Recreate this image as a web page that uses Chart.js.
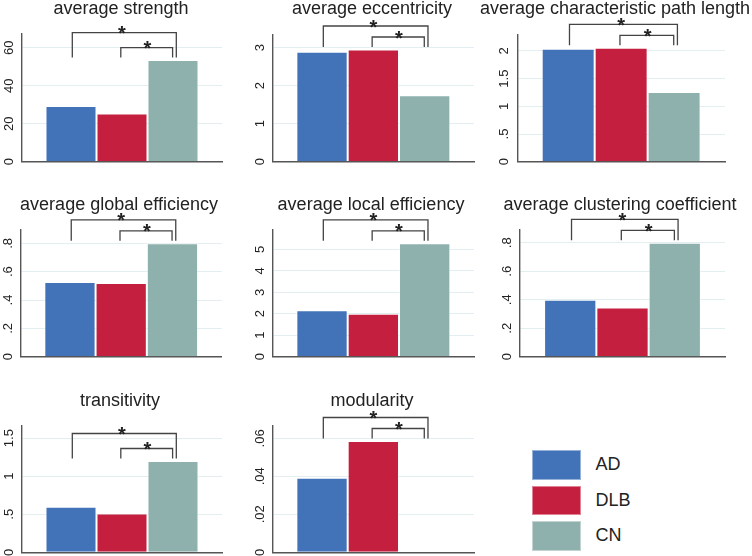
<!DOCTYPE html>
<html>
<head>
<meta charset="utf-8">
<script src="https://cdn.jsdelivr.net/npm/chart.js@4.4.1/dist/chart.umd.min.js"></script>
<style>
  html, body { margin: 0; padding: 0; background: #fff; }
  #page { position: relative; width: 752px; height: 556px; overflow: hidden; font-family: "Liberation Sans", Arial, sans-serif; }
  #page canvas { position: absolute; }
  #legend { position: absolute; left: 532px; top: 450px; }
  .row { display: flex; align-items: center; height: 29.5px; margin-bottom: 6px; }
  .swatch { width: 49px; height: 29.5px; box-sizing: border-box; border: 1px solid rgba(255,255,255,0.45); }
  .name { margin-left: 14.5px; font-size: 18px; color: #222; }
</style>
</head>
<body>
<div id="page"><div id="legend"></div></div>
<script>
var groups = ['AD', 'DLB', 'CN'];
var groupColors = ['#4273b9', '#c41f3e', '#8eb1ae'];

var strength = [29.3, 25.3, 53.5];
var eccentricity = [2.89, 2.95, 1.75];
var pathLength = [2.04, 2.055, 1.26];
var globalEff = [0.527, 0.52, 0.80];
var localEff = [2.16, 2.0, 5.28];
var clustering = [0.40, 0.345, 0.80];
var transitivity = [0.60, 0.51, 1.20];
var modularity = [0.0393, 0.0586, null];

var strengthTicks = [0, 20, 40, 60];
var strengthLabels = ['0', '20', '40', '60'];
var eccTicks = [0, 1, 2, 3];
var eccLabels = ['0', '1', '2', '3'];
var pathTicks = [0, 0.5, 1, 1.5, 2];
var pathLabels = ['0', '.5', '1', '1.5', '2'];
var effTicks = [0, 0.2, 0.4, 0.6, 0.8];
var effLabels = ['0', '.2', '.4', '.6', '.8'];
var localTicks = [0, 1, 2, 3, 4, 5];
var localLabels = ['0', '1', '2', '3', '4', '5'];
var transTicks = [0, 0.5, 1, 1.5];
var transLabels = ['0', '.5', '1', '1.5'];
var modTicks = [0, 0.02, 0.04, 0.06];
var modLabels = ['0', '.02', '.04', '.06'];

var FONT = '"Liberation Sans", Arial, sans-serif';
var CAT_PCT = 0.765;
var CANVAS_W = 280;
var TICK_SIZE = 13;

// panel placement on the page (title centre, plot box), kept apart from the data
var panels = [
  { title: 'average strength', values: strength, ticks: strengthTicks, labels: strengthLabels, max: 67.2,
    tc: 120.5, left: 22, right: 222, top: 34, bottom: 161.7, lift: 25 },
  { title: 'average eccentricity', values: eccentricity, ticks: eccTicks, labels: eccLabels, max: 3.35,
    tc: 371.7, left: 272.7, right: 474, top: 34.3, bottom: 161.7, lift: 21 },
  { title: 'average characteristic path length', values: pathLength, ticks: pathTicks, labels: pathLabels, max: 2.30,
    tc: 614.5, left: 517.3, right: 725, top: 34.3, bottom: 161.7, lift: 21 },
  { title: 'average global efficiency', values: globalEff, ticks: effTicks, labels: effLabels, max: 0.894,
    tc: 119, left: 20.7, right: 221.7, top: 230, bottom: 356.7, lift: 21 },
  { title: 'average local efficiency', values: localEff, ticks: localTicks, labels: localLabels, max: 5.9,
    tc: 370.8, left: 272.7, right: 474, top: 230, bottom: 356.7, lift: 21 },
  { title: 'average clustering coefficient', values: clustering, ticks: effTicks, labels: effLabels, max: 0.89,
    tc: 620, left: 520, right: 725, top: 230, bottom: 356.7, lift: 21 },
  { title: 'transitivity', values: transitivity, ticks: transTicks, labels: transLabels, max: 1.66,
    tc: 120, left: 22, right: 222, top: 426, bottom: 552.3, lift: 25 },
  { title: 'modularity', values: modularity, ticks: modTicks, labels: modLabels, max: 0.0665,
    tc: 372, left: 272.7, right: 474, top: 426, bottom: 552.3, lift: 21 }
];

var measureCtx = document.createElement('canvas').getContext('2d');
measureCtx.font = TICK_SIZE + 'px ' + FONT;

var bracketPlugin = {
  id: 'brackets',
  afterDraw: function (chart, args, opts) {
    var xs = chart.scales.x;
    var ys = chart.scales.y;
    var ctx = chart.ctx;
    var centre = xs.getPixelForValue(0);
    var step = xs.width * CAT_PCT / 3;
    var c = [centre - step, centre, centre + step];
    var vals = chart.data.datasets.map(function (ds) { return ds.data[0] || 0; });
    var legY = ys.getPixelForValue(Math.max.apply(null, vals)) - 2.5;
    var bigY = legY - opts.lift;
    var smallY = legY - 10;

    ctx.save();
    ctx.strokeStyle = '#444';
    ctx.lineWidth = 1.3;
    ctx.beginPath();
    ctx.moveTo(c[0] + 1.3, legY); ctx.lineTo(c[0] + 1.3, bigY);
    ctx.lineTo(c[2] + 3.3, bigY); ctx.lineTo(c[2] + 3.3, legY);
    ctx.moveTo(c[1] - 1.2, legY); ctx.lineTo(c[1] - 1.2, smallY);
    ctx.lineTo(c[2] - 0.4, smallY); ctx.lineTo(c[2] - 0.4, legY);
    ctx.stroke();
    ctx.fillStyle = '#222';
    ctx.font = 'bold 20px ' + FONT;
    ctx.textAlign = 'center';
    ctx.textBaseline = 'alphabetic';
    ctx.fillText('*', (c[0] + c[2]) / 2, bigY + 7.5);
    ctx.fillText('*', (c[1] + c[2]) / 2, smallY + 7.5);
    ctx.restore();
  }
};

function makePanel(p) {
  var page = document.getElementById('page');
  var canvas = document.createElement('canvas');
  var cl = Math.round(p.tc - CANVAS_W / 2);
  var ct = Math.floor(p.top - 36);
  var ch = Math.ceil(p.bottom - ct + 18);
  canvas.style.left = cl + 'px';
  canvas.style.top = ct + 'px';
  canvas.style.width = CANVAS_W + 'px';
  canvas.style.height = ch + 'px';
  page.appendChild(canvas);

  var leftW = p.left - cl;
  var rightW = cl + CANVAS_W - p.right;
  var widest = Math.max.apply(null, p.labels.map(function (s) { return measureCtx.measureText(s).width; }));

  return new Chart(canvas, {
    type: 'bar',
    data: {
      labels: [''],
      datasets: groups.map(function (g, i) {
        return {
          label: g,
          data: [p.values[i]],
          backgroundColor: groupColors[i],
          borderColor: 'rgba(255,255,255,0.45)',
          borderWidth: 1,
          categoryPercentage: CAT_PCT,
          barPercentage: 1
        };
      })
    },
    options: {
      responsive: false,
      animation: false,
      devicePixelRatio: 1,
      layout: { padding: { left: 0, right: 0, top: p.top - 36 - ct, bottom: ch - (p.bottom - ct) } },
      plugins: {
        legend: { display: false },
        tooltip: { enabled: false },
        title: {
          display: true,
          text: p.title,
          color: '#222',
          font: { family: FONT, size: 18, weight: 'normal' },
          padding: { top: 0, bottom: 14.4 }
        },
        brackets: { lift: p.lift }
      },
      scales: {
        x: {
          type: 'category',
          grid: { display: false },
          border: { display: true, color: '#555', width: 1.4 },
          ticks: { display: false },
          afterFit: function (s) { s.height = 0; }
        },
        y: {
          type: 'linear',
          position: 'left',
          min: 0,
          max: p.max,
          afterBuildTicks: function (s) { s.ticks = p.ticks.map(function (v) { return { value: v }; }); },
          grid: { color: '#e3eef0', lineWidth: 1, drawTicks: false },
          border: { display: true, color: '#555', width: 1.4 },
          ticks: {
            autoSkip: false,
            minRotation: 90,
            maxRotation: 90,
            crossAlign: 'center',
            padding: 12.5 - widest / 2,
            color: '#222',
            font: { family: FONT, size: TICK_SIZE },
            callback: function (v, i) { return p.labels[i]; }
          },
          afterFit: function (s) { s.width = leftW; }
        },
        y2: {
          type: 'linear',
          position: 'right',
          display: true,
          grid: { display: false },
          border: { display: false },
          ticks: { display: false },
          afterFit: function (s) { s.width = rightW; }
        }
      }
    },
    plugins: [bracketPlugin]
  });
}

function buildLegend() {
  var box = document.getElementById('legend');
  groups.forEach(function (g, i) {
    var row = document.createElement('div');
    row.className = 'row';
    var sw = document.createElement('div');
    sw.className = 'swatch';
    sw.style.background = groupColors[i];
    var name = document.createElement('span');
    name.className = 'name';
    name.textContent = g;
    row.appendChild(sw);
    row.appendChild(name);
    box.appendChild(row);
  });
}

panels.forEach(makePanel);
buildLegend();
</script>
</body>
</html>
